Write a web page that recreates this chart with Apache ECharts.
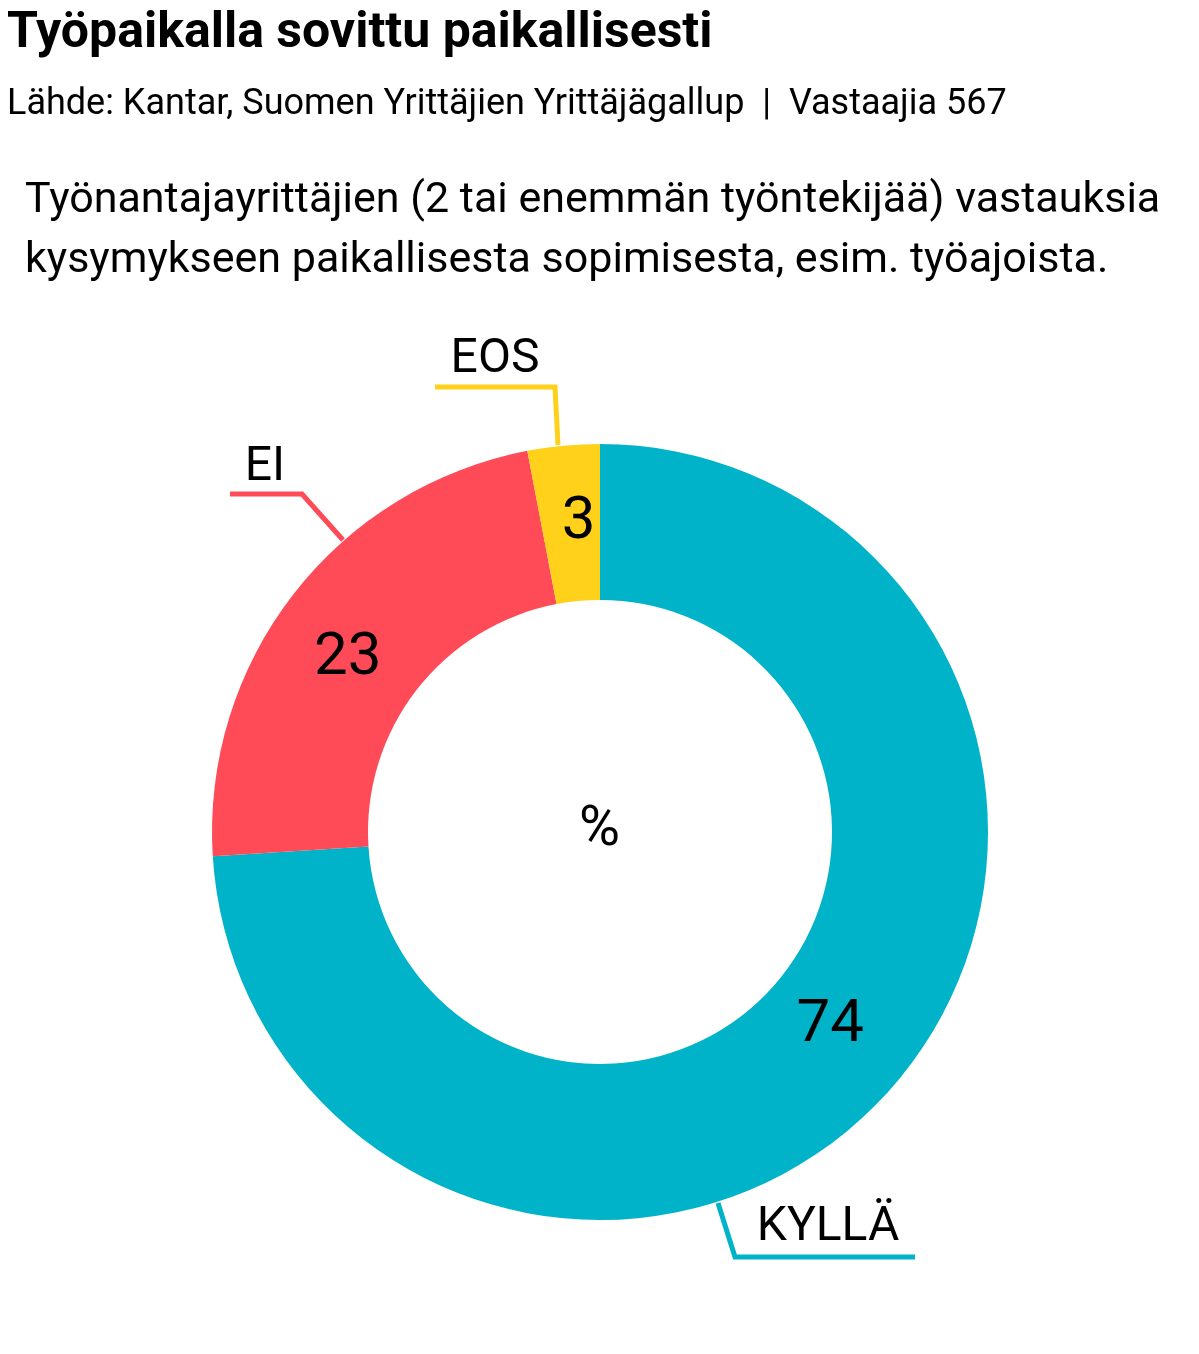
<!DOCTYPE html>
<html lang="fi">
<head>
<meta charset="UTF-8">
<title>Työpaikalla sovittu paikallisesti</title>
<script src="https://cdn.jsdelivr.net/npm/echarts@6/dist/echarts.min.js"></script>
<style>body{margin:0;background:#fff}</style>
</head>
<body>
<div id="chart" style="width:1199px;height:1354px"></div>
<script>
var labels = ['KYLLÄ', 'EI', 'EOS'];
var values = [74, 23, 3];
var colors = ['#00b3c9', '#ff4b58', '#ffd11a'];

// outer label placement (text anchor and leader line), per slice
var outerText = [[828, 1228], [265, 468], [495, 360]];
var outerLine = [
    [[718, 1203], [735, 1257], [915, 1257]],
    [[343, 540], [302, 494], [230, 494]],
    [[558, 445], [555, 387], [435, 387]]
];
// small nudges for the inside numbers
var innerShift = [[2, -20], [-5, 19], [8, 3]];

var chart = echarts.init(document.getElementById('chart'));
var data = labels.map(function (n, i) {
    return {name: n, value: values[i], itemStyle: {color: colors[i]}};
});
var ghost = labels.map(function (n, i) {
    return {name: n, value: values[i], itemStyle: {color: 'rgba(0,0,0,0)'},
            labelLine: {lineStyle: {color: colors[i], width: 5}}};
});

var option = {
    textStyle: {fontFamily: 'Roboto'},
    title: [
        {text: 'Työpaikalla sovittu paikallisesti', left: 2, top: 4,
         textStyle: {fontSize: 50, fontWeight: 'bold', color: '#000', fontFamily: 'Roboto'}},
        {text: 'Lähde: Kantar, Suomen Yrittäjien Yrittäjägallup  |  Vastaajia 567', left: 2, top: 82,
         textStyle: {fontSize: 36, fontWeight: 'normal', color: '#000', fontFamily: 'Roboto'}},
        {text: 'Työnantajayrittäjien (2 tai enemmän työntekijää) vastauksia\nkysymykseen paikallisesta sopimisesta, esim. työajoista.',
         left: 20, top: 166,
         textStyle: {fontSize: 43, fontWeight: 'normal', color: '#000', lineHeight: 60, fontFamily: 'Roboto'}},
        {text: '%', left: 'center', top: 798,
         textStyle: {fontSize: 56, fontWeight: 'normal', color: '#000', fontFamily: 'Roboto'}}
    ],
    series: [
        {
            type: 'pie',
            center: [600, 832],
            radius: [232, 388],
            startAngle: 90,
            clockwise: true,
            silent: true,
            data: data,
            label: {show: true, position: 'inside', formatter: '{c}', fontSize: 60, color: '#000'},
            labelLine: {show: false},
            labelLayout: function (p) {
                return {dx: innerShift[p.dataIndex][0], dy: innerShift[p.dataIndex][1]};
            }
        },
        {
            type: 'pie',
            center: [600, 832],
            radius: [232, 388],
            startAngle: 90,
            clockwise: true,
            silent: true,
            data: ghost,
            label: {show: true, position: 'outside', formatter: '{b}', fontSize: 48, color: '#000',
                    align: 'center', verticalAlign: 'middle'},
            labelLine: {show: true, lineStyle: {width: 5}},
            emphasis: {disabled: true},
            labelLayout: function (p) {
                var i = p.dataIndex;
                return {x: outerText[i][0], y: outerText[i][1], align: 'center', verticalAlign: 'middle',
                        labelLinePoints: outerLine[i]};
            }
        }
    ]
};
chart.setOption(option);
</script>
</body>
</html>
